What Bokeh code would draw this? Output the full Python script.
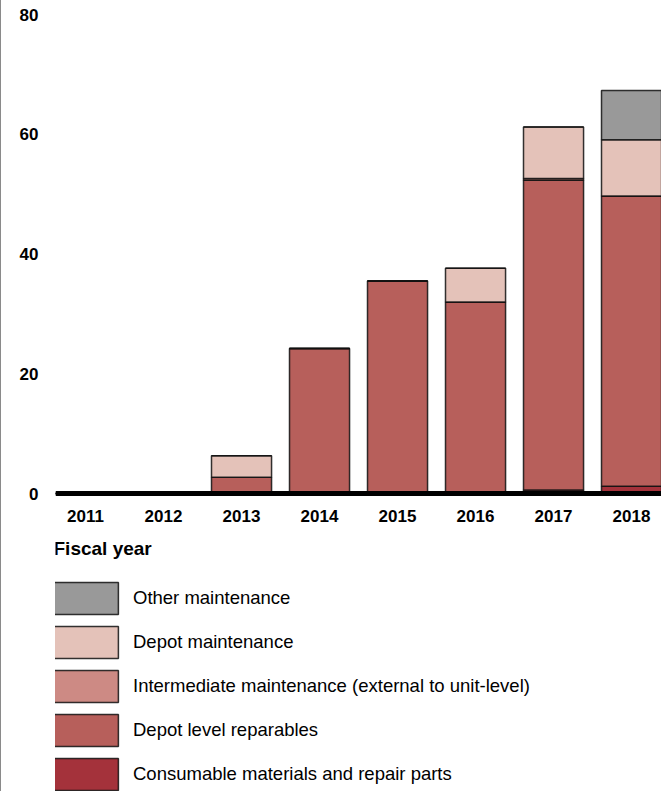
from bokeh.plotting import figure
from bokeh.models import (Legend, LegendItem, FixedTicker, Range1d, ColumnDataSource,
                          Label)
from bokeh.embed import file_html
from bokeh.resources import INLINE

# ---- data (billions) ----
years = [2011, 2012, 2013, 2014, 2015, 2016, 2017, 2018]
year_labels = ["2011", "2012", "2013", "2014", "2015", "2016", "2017", "2018"]
consumables = [0, 0, 0, 0, 0, 0, 0.6, 1.2]
depot_level_reparables = [0, 0, 2.7, 24.2, 35.5, 32.0, 51.7, 48.5]
intermediate = [0, 0, 0, 0, 0, 0, 0.3, 0]
depot_maintenance = [0, 0, 3.6, 0, 0, 5.6, 8.6, 9.4]
other = [0, 0, 0, 0, 0, 0, 0, 8.2]
y_ticks = [0, 20, 40, 60, 80]

series_keys = ["cons", "dlr", "inter", "depot", "other"]
series_names = [
    "Consumable materials and repair parts",
    "Depot level reparables",
    "Intermediate maintenance (external to unit-level)",
    "Depot maintenance",
    "Other maintenance",
]
colors = ["#A4323B", "#B75F5B", "#CD8A84", "#E4C2B9", "#999999"]

source = ColumnDataSource(dict(
    year=years, cons=consumables, dlr=depot_level_reparables,
    inter=intermediate, depot=depot_maintenance, other=other,
))

FONT = "Liberation Sans"

# layout (pixels)
W, H = 661, 791
TOP = 14          # pixel row of the top tick (80)
ZERO = 493        # pixel row of the zero line
Y_MAX = 80
px_per_unit = (ZERO - TOP) / Y_MAX
y_start = -(H - ZERO) / px_per_unit   # frame extends below zero to host axis labels + legend

p = figure(
    width=W, height=H,
    x_range=Range1d(2010.615, 2018.397),
    y_range=Range1d(y_start, Y_MAX),
    output_backend="svg", toolbar_location=None,
    min_border_left=54, min_border_right=0, min_border_top=TOP, min_border_bottom=0,
)
p.styles = {"border-left": "1px solid #8a8a8a"}
p.outline_line_color = None
p.xgrid.visible = False
p.ygrid.visible = False

renderers = p.vbar_stack(
    series_keys, x="year", width=0.77, source=source,
    fill_color=colors, line_color="#111111", line_width=1.5, line_alpha=0.85,
)

# y axis
p.yaxis.ticker = FixedTicker(ticks=y_ticks)
p.yaxis.axis_line_color = None
p.yaxis.major_tick_line_color = None
p.yaxis.minor_tick_line_color = None
p.yaxis.major_tick_out = 0
p.yaxis.major_label_standoff = 17
p.yaxis.major_label_text_font = FONT
p.yaxis.major_label_text_font_style = "bold"
p.yaxis.major_label_text_font_size = "17px"
p.yaxis.major_label_text_color = "black"

# x axis, pinned at zero
p.xaxis.fixed_location = 0
p.xaxis.ticker = FixedTicker(ticks=years)
p.xaxis.major_label_overrides = {y: l for y, l in zip(years, year_labels)}
p.xaxis.axis_line_color = "black"
p.xaxis.axis_line_width = 5
p.xaxis.major_tick_line_color = None
p.xaxis.minor_tick_line_color = None
p.xaxis.major_tick_out = 0
p.xaxis.major_label_standoff = 16
p.xaxis.major_label_text_font = FONT
p.xaxis.major_label_text_font_style = "bold"
p.xaxis.major_label_text_font_size = "17px"
p.xaxis.major_label_text_color = "black"

xtitle = Label(
    x=-2, y=H - 548, x_units="screen", y_units="screen", text="Fiscal year",
    text_font=FONT, text_font_style="bold", text_font_size="19px",
    text_color="black", text_baseline="middle", text_align="left",
)
p.add_layout(xtitle)

items = [LegendItem(label=n, renderers=[r]) for n, r in zip(series_names, renderers)][::-1]
legend = Legend(
    items=items, location=(-10, -3), orientation="vertical",
    glyph_width=81, glyph_height=40, label_standoff=7, spacing=4,
    padding=0, margin=0, border_line_color=None, background_fill_alpha=0,
    label_text_font=FONT, label_text_font_size="18.5px", label_text_color="black",
)
p.add_layout(legend, "center")

open("out.html", "w").write(file_html(p, INLINE))
